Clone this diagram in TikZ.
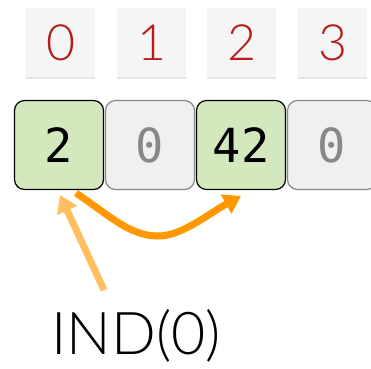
\documentclass[tikz,border=0pt]{standalone}
\usepackage{fontspec}
\setmainfont{Lato Light}
\newfontfamily\monof{DejaVu Sans Mono}
\usetikzlibrary{shadows,arrows.meta}
\definecolor{idxred}{HTML}{B71C1C}
\definecolor{idxfill}{HTML}{F5F5F5}
\definecolor{cellgreen}{HTML}{D3E8BD}
\definecolor{cellgray}{HTML}{F0F0F0}
\definecolor{bordgray}{HTML}{888888}
\definecolor{lightorange}{HTML}{FFBF60}
\definecolor{darkorange}{HTML}{FF9800}
\tikzset{
  idxbox/.style={fill=idxfill, minimum width=69pt, minimum height=69pt, inner sep=0pt,
    drop shadow={shadow xshift=0pt, shadow yshift=-1.5pt, shadow scale=1.01, fill=black, opacity=0.10},
    text=idxred, font=\fontsize{50}{50}\selectfont},
  cellg/.style={draw=black, line width=1.2pt, fill=cellgreen, rounded corners=10pt,
    minimum width=89pt, minimum height=89pt, inner sep=0pt, font=\monof\fontsize{47}{47}\selectfont},
  cellw/.style={draw=bordgray, line width=1.2pt, fill=cellgray, rounded corners=10pt,
    minimum width=89pt, minimum height=89pt, inner sep=0pt, text=bordgray, font=\monof\fontsize{47}{47}\selectfont},
}
\begin{document}
\begin{tikzpicture}[x=1pt,y=-1pt]
\useasboundingbox (0,0) rectangle (371,368);
\node[idxbox] (i0) at (60.5,42.5) {0};
\node[idxbox] (i1) at (151.5,42.5) {1};
\node[idxbox] (i2) at (241.5,42.5) {2};
\node[idxbox] (i3) at (332.5,42.5) {3};
\node[cellg] (c0) at (59,145) {2};
\node[cellw] (c1) at (150,145) {0};
\node[cellg] (c2) at (241,145) {42};
\node[cellw] (c3) at (332,145) {0};
\node[font=\fontsize{59}{59}\selectfont, anchor=base] (lab) at (136,354) {IND(0)};
\coordinate (ls) at (104,290);
\coordinate (le) at (60,195);
\draw[lightorange, line width=7pt, -{Triangle[length=17pt,width=21pt]}] (ls) -- (le);
\coordinate (cs) at (76,193);
\coordinate (cm) at (158,236);
\coordinate (ce) at (241,196);
\draw[darkorange, line width=7pt, -{Triangle[length=17pt,width=21pt]}] (cs) .. controls (110,216) and (130,236) .. (cm) .. controls (182,236) and (208,214) .. (ce);
\end{tikzpicture}
\end{document}
